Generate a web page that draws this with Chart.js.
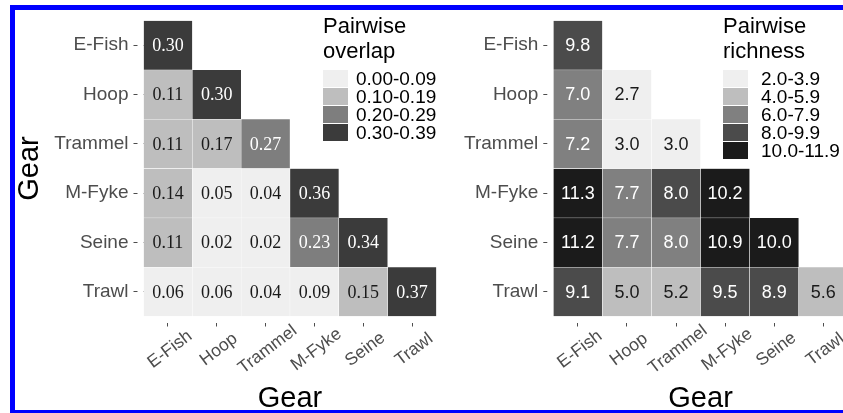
<!DOCTYPE html>
<html>
<head>
<meta charset="utf-8">
<script src="https://cdn.jsdelivr.net/npm/chart.js@4"></script>
<style>
  html, body { margin: 0; padding: 0; background: #fff; }
  body { width: 843px; height: 413px; overflow: hidden; position: relative;
         font-family: "Liberation Sans", Arial, sans-serif; }
  canvas { position: absolute; top: 0; }
  #frame { position: absolute; left: 10px; top: 5px; width: 900px; height: 410px;
           box-sizing: border-box; border: 5px solid #0000ff; border-right: none;
           pointer-events: none; }
  .legend { position: absolute; top: 0; color: #000; }
  .legend .title { position: absolute; left: 0; top: 13px; font-size: 22px;
                   line-height: 25px; white-space: nowrap; }
  .legend .key { position: absolute; left: 0; width: 25px; height: 17px; }
  .legend .lab { position: absolute; font-size: 19px; line-height: 18px; white-space: nowrap; }
</style>
</head>
<body>
<canvas id="overlapChart" width="460" height="413" style="left:0"></canvas>
<canvas id="richnessChart" width="420" height="413" style="left:455px"></canvas>
<div id="overlapLegend" class="legend" style="left:323px"></div>
<div id="richnessLegend" class="legend" style="left:723px"></div>
<div id="frame"></div>
<script>
// Gear types (rows and columns of both triangular matrices)
const gears = ['E-Fish', 'Hoop', 'Trammel', 'M-Fyke', 'Seine', 'Trawl'];

// Pairwise overlap, lower triangle, one row per gear
const overlapRows = [
  [0.30],
  [0.11, 0.30],
  [0.11, 0.17, 0.27],
  [0.14, 0.05, 0.04, 0.36],
  [0.11, 0.02, 0.02, 0.23, 0.34],
  [0.06, 0.06, 0.04, 0.09, 0.15, 0.37]
];

// Pairwise richness, lower triangle, one row per gear
const richnessRows = [
  [9.8],
  [7.0, 2.7],
  [7.2, 3.0, 3.0],
  [11.3, 7.7, 8.0, 10.2],
  [11.2, 7.7, 7.96, 10.9, 10.0],
  [9.1, 5.0, 5.2, 9.5, 8.9, 5.6]
];

// Binned legends
const overlapBinStarts = [0, 0.1, 0.2, 0.3];
const overlapBinLabels = ['0.00-0.09', '0.10-0.19', '0.20-0.29', '0.30-0.39'];
const overlapGreys = ['#efefef', '#bebebe', '#7e7e7e', '#3b3b3b'];

const richnessBinStarts = [2, 4, 6, 8, 10];
const richnessBinLabels = ['2.0-3.9', '4.0-5.9', '6.0-7.9', '8.0-9.9', '10.0-11.9'];
const richnessGreys = ['#efefef', '#bebebe', '#808080', '#4b4b4b', '#1b1b1b'];

Chart.defaults.font.family = '"Liberation Sans", Arial, sans-serif';

function binIndex(v, starts) {
  let k = 0;
  for (let i = 0; i < starts.length; i++) if (v >= starts[i] - 1e-9) k = i;
  return k;
}

// Writes the value into the middle of each tile
function cellLabelPlugin(rows, starts, digits, font) {
  return {
    id: 'cellLabels',
    afterDatasetsDraw(chart) {
      const ctx = chart.ctx;
      ctx.save();
      ctx.font = font;
      ctx.textAlign = 'center';
      ctx.textBaseline = 'middle';
      rows.forEach((vals, r) => {
        const meta = chart.getDatasetMeta(r);
        vals.forEach((v, c) => {
          const el = meta.data[c];
          if (!el) return;
          const p = el.getProps(['x', 'y', 'base'], true);
          ctx.fillStyle = binIndex(v, starts) >= 2 ? '#ffffff' : '#1a1a1a';
          ctx.fillText(v.toFixed(digits), p.x, (p.y + p.base) / 2 + 1);
        });
      });
      ctx.restore();
    }
  };
}

// Slanted gear names under the x axis, centred on each tick
const slantedXLabels = {
  id: 'slantedXLabels',
  afterDraw(chart) {
    const s = chart.scales.x;
    const ctx = chart.ctx;
    gears.forEach((g, i) => {
      ctx.save();
      ctx.translate(s.getPixelForTick(i) + 2, chart.chartArea.bottom + 33);
      ctx.rotate(-37 * Math.PI / 180);
      ctx.font = '17.5px "Liberation Sans", Arial, sans-serif';
      ctx.fillStyle = '#4d4d4d';
      ctx.textAlign = 'center';
      ctx.textBaseline = 'middle';
      ctx.fillText(g, 0, 0);
      ctx.restore();
    });
  }
};

function makeHeatmap(canvasId, rows, starts, greys, digits, cellFont, geom) {
  const datasets = rows.map((vals, r) => ({
    data: gears.map((g, c) => (c < vals.length ? [r, r + 1] : null)),
    backgroundColor: gears.map((g, c) =>
      c < vals.length ? greys[binIndex(vals[c], starts)] : 'rgba(0,0,0,0)'),
    borderColor: '#ffffff',
    borderWidth: 0.5,
    borderSkipped: false,
    grouped: false,
    barPercentage: 1,
    categoryPercentage: 1
  }));

  const tickGrid = {
    display: true,
    drawOnChartArea: false,
    drawTicks: true,
    tickLength: 10,
    tickColor: '#4d4d4d',
    tickWidth: 1
  };

  return new Chart(document.getElementById(canvasId), {
    type: 'bar',
    data: { labels: gears, datasets },
    options: {
      responsive: false,
      animation: false,
      devicePixelRatio: 1,
      events: [],
      layout: { padding: { top: 20.5, right: geom.padRight, bottom: 0, left: 0 } },
      plugins: { legend: { display: false }, tooltip: { enabled: false } },
      scales: {
        x: {
          type: 'category',
          offset: true,
          grid: Object.assign({}, tickGrid, { offset: false, tickBorderDash: [4, 6], tickBorderDashOffset: 4 }),
          border: { display: false },
          ticks: { display: false },
          title: {
            display: true, text: 'Gear', color: '#000',
            font: { size: 29, lineHeight: 1 },
            padding: { top: 0, bottom: 0 }
          },
          afterFit: s => { s.height = 96.5; }
        },
        y: {
          type: 'linear',
          min: 0,
          max: 6,
          reverse: true,
          grid: Object.assign({}, tickGrid, { tickBorderDash: [4, 6], tickBorderDashOffset: 0 }),
          border: { display: false },
          afterBuildTicks: s => { s.ticks = gears.map((g, i) => ({ value: i + 0.5 })); },
          ticks: {
            autoSkip: false,
            padding: 5,
            color: '#4d4d4d',
            font: { size: 19 },
            callback: v => gears[Math.floor(v)]
          },
          title: {
            display: geom.yTitle, text: 'Gear', color: '#000',
            font: { size: 29, lineHeight: 1 },
            padding: { top: 15.5, bottom: 0 }
          },
          afterFit: s => { s.width = geom.yWidth; }
        }
      }
    },
    plugins: [cellLabelPlugin(rows, starts, digits, cellFont), slantedXLabels]
  });
}

makeHeatmap('overlapChart', overlapRows, overlapBinStarts, overlapGreys, 2,
  '18px "Liberation Serif", "Times New Roman", serif',
  { yWidth: 143.5, padRight: 23.5, yTitle: true });

makeHeatmap('richnessChart', richnessRows, richnessBinStarts, richnessGreys, 1,
  '18px "Liberation Sans", Arial, sans-serif',
  { yWidth: 98.3, padRight: 27.2, yTitle: false });

// Binned grey legends beside each triangle
function buildLegend(id, titleLines, labels, greys, keyTop, labLeft) {
  const box = document.getElementById(id);
  const t = document.createElement('div');
  t.className = 'title';
  t.innerHTML = titleLines.join('<br>');
  box.appendChild(t);
  labels.forEach((lab, i) => {
    const k = document.createElement('div');
    k.className = 'key';
    k.style.top = (keyTop + 18 * i) + 'px';
    k.style.background = greys[i];
    box.appendChild(k);
    const l = document.createElement('div');
    l.className = 'lab';
    l.style.left = labLeft + 'px';
    l.style.top = (keyTop + 18 * i) + 'px';
    l.textContent = lab;
    box.appendChild(l);
  });
}

buildLegend('overlapLegend', ['Pairwise', 'overlap'], overlapBinLabels, overlapGreys, 69.5, 33);
buildLegend('richnessLegend', ['Pairwise', 'richness'], richnessBinLabels, richnessGreys, 70, 38);
</script>
</body>
</html>
